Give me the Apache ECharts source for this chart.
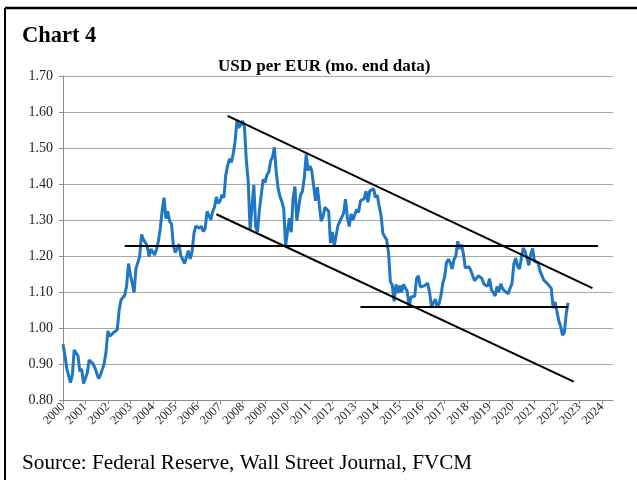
<!DOCTYPE html>
<html>
<head>
<meta charset="utf-8">
<script src="https://cdn.jsdelivr.net/npm/echarts@6/dist/echarts.min.js"></script>
<style>
html,body{margin:0;padding:0;background:#fff;}
#chart{width:637px;height:480px;}
</style>
</head>
<body>
<div id="chart"></div>
<script>
// Monthly USD per EUR (month-end), first point = 2000-06, last = 2022-12
const startYear = 2000, startMonth = 6, axisMonths = 295;
const usdPerEur = [
  0.955, 0.925, 0.888, 0.883, 0.848, 0.870, 0.939,
  0.936, 0.923, 0.880, 0.886, 0.846, 0.848, 0.876, 0.911, 0.911, 0.901, 0.890, 0.890,
  0.860, 0.869, 0.872, 0.901, 0.934, 0.992, 0.977, 0.981, 0.987, 0.988, 0.995, 1.049,
  1.078, 1.077, 1.091, 1.117, 1.179, 1.148, 1.125, 1.099, 1.165, 1.161, 1.199, 1.260,
  1.246, 1.244, 1.229, 1.198, 1.219, 1.218, 1.203, 1.218, 1.241, 1.276, 1.326, 1.362,
  1.304, 1.324, 1.296, 1.289, 1.230, 1.209, 1.213, 1.233, 1.201, 1.199, 1.179, 1.184,
  1.215, 1.192, 1.212, 1.262, 1.283, 1.279, 1.277, 1.283, 1.268, 1.276, 1.324, 1.320,
  1.301, 1.323, 1.336, 1.364, 1.346, 1.353, 1.370, 1.362, 1.424, 1.451, 1.470, 1.460,
  1.484, 1.519, 1.578, 1.556, 1.554, 1.575, 1.558, 1.465, 1.409, 1.273, 1.270, 1.397,
  1.281, 1.267, 1.329, 1.324, 1.413, 1.404, 1.425, 1.433, 1.464, 1.475, 1.502, 1.433,
  1.387, 1.365, 1.351, 1.331, 1.228, 1.223, 1.305, 1.266, 1.362, 1.393, 1.298, 1.336,
  1.370, 1.380, 1.418, 1.482, 1.437, 1.450, 1.436, 1.438, 1.353, 1.391, 1.344, 1.297,
  1.309, 1.335, 1.334, 1.324, 1.236, 1.267, 1.228, 1.257, 1.285, 1.296, 1.301, 1.319,
  1.358, 1.307, 1.282, 1.317, 1.300, 1.301, 1.330, 1.321, 1.353, 1.358, 1.359, 1.380,
  1.349, 1.381, 1.377, 1.387, 1.363, 1.369, 1.339, 1.313, 1.263, 1.253, 1.245, 1.210,
  1.129, 1.119, 1.074, 1.121, 1.097, 1.118, 1.099, 1.121, 1.121, 1.102, 1.058, 1.086,
  1.083, 1.088, 1.137, 1.145, 1.114, 1.110, 1.117, 1.115, 1.124, 1.097, 1.059, 1.055,
  1.080, 1.059, 1.067, 1.089, 1.124, 1.142, 1.182, 1.191, 1.181, 1.164, 1.190, 1.200,
  1.241, 1.220, 1.232, 1.208, 1.167, 1.168, 1.170, 1.160, 1.161, 1.131, 1.133, 1.145,
  1.145, 1.137, 1.122, 1.121, 1.116, 1.137, 1.106, 1.099, 1.089, 1.115, 1.100, 1.123,
  1.109, 1.103, 1.103, 1.095, 1.111, 1.123, 1.178, 1.194, 1.171, 1.164, 1.194, 1.222,
  1.213, 1.208, 1.174, 1.205, 1.221, 1.186, 1.186, 1.181, 1.158, 1.157, 1.133, 1.137,
  1.123, 1.120, 1.110, 1.055, 1.073, 1.047, 1.020, 1.005, 0.980, 0.988, 1.040, 1.070
];
// Trend lines (category, value) endpoints
const resistanceFlat = [["2003-03", 1.228], ["2024-04", 1.228]];
const supportFlat    = [["2013-09", 1.058], ["2022-12", 1.058]];
const channelUpper   = [["2007-10", 1.589], ["2024-01", 1.111]];
const channelLower   = [["2007-04", 1.316], ["2023-03", 0.851]];
const yTicks = { min: 0.8, max: 1.7, step: 0.1 };

const months = [];
for (let i = 0; i < axisMonths; i++) {
  const m = startMonth - 1 + i;
  const y = startYear + Math.floor(m / 12);
  const mm = (m % 12) + 1;
  months.push(y + '-' + (mm < 10 ? '0' + mm : mm));
}

const serif = '"Liberation Serif","Times New Roman",serif';
const chart = echarts.init(document.getElementById('chart'), null, {renderer: 'canvas'});
const trendStyle = {color: '#000', width: 2};
function trend(d) {
  return {type: 'line', data: d, symbol: 'none', silent: true, lineStyle: trendStyle, z: 3, animation: false};
}
chart.setOption({
  backgroundColor: '#fff',
  animation: false,
  title: [
    {text: 'Chart 4', left: 17, top: 20, textStyle: {fontFamily: serif, fontWeight: 'bold', fontSize: 22.5, color: '#000'}},
    {text: 'USD per EUR (mo. end data)', left: 213, top: 53, textStyle: {fontFamily: serif, fontWeight: 'bold', fontSize: 17, color: '#000'}},
    {text: 'Source: Federal Reserve, Wall Street Journal, FVCM', left: 17, top: 448, textStyle: {fontFamily: serif, fontWeight: 'normal', fontSize: 21.2, color: '#000'}}
  ],
  graphic: [
    {type: 'line', shape: {x1: 5, y1: 8, x2: 637, y2: 8}, style: {stroke: '#000', lineWidth: 2.5}},
    {type: 'line', shape: {x1: 5, y1: 8, x2: 5, y2: 480}, style: {stroke: '#000', lineWidth: 2}}
  ],
  grid: {left: 63, right: 24, top: 76, bottom: 80, containLabel: false},
  xAxis: {
    type: 'category',
    data: months,
    boundaryGap: false,
    axisLine: {lineStyle: {color: '#8c8c8c', width: 1}},
    axisTick: {show: true, interval: 11, length: 4, lineStyle: {color: '#8c8c8c'}},
    axisLabel: {
      interval: 11, rotate: 45, margin: 5,
      fontFamily: serif, fontSize: 12.5, color: '#222',
      formatter: function (v) { return v.slice(0, 4); }
    },
    splitLine: {show: false}
  },
  yAxis: {
    type: 'value',
    min: yTicks.min, max: yTicks.max, interval: yTicks.step,
    axisLine: {show: true, lineStyle: {color: '#8c8c8c'}},
    axisTick: {show: true, length: 4, lineStyle: {color: '#8c8c8c'}},
    axisLabel: {margin: 10, fontFamily: serif, fontSize: 14, color: '#222',
      formatter: function (v) { return v.toFixed(2); }},
    splitLine: {show: true, lineStyle: {color: '#a8a8a8', width: 1}}
  },
  series: [
    {type: 'line', name: 'USD per EUR', data: usdPerEur, symbol: 'none', z: 2,
      lineStyle: {color: '#1f76c2', width: 3}},
    trend(resistanceFlat),
    trend(supportFlat),
    trend(channelUpper),
    trend(channelLower)
  ]
});
</script>
</body>
</html>
